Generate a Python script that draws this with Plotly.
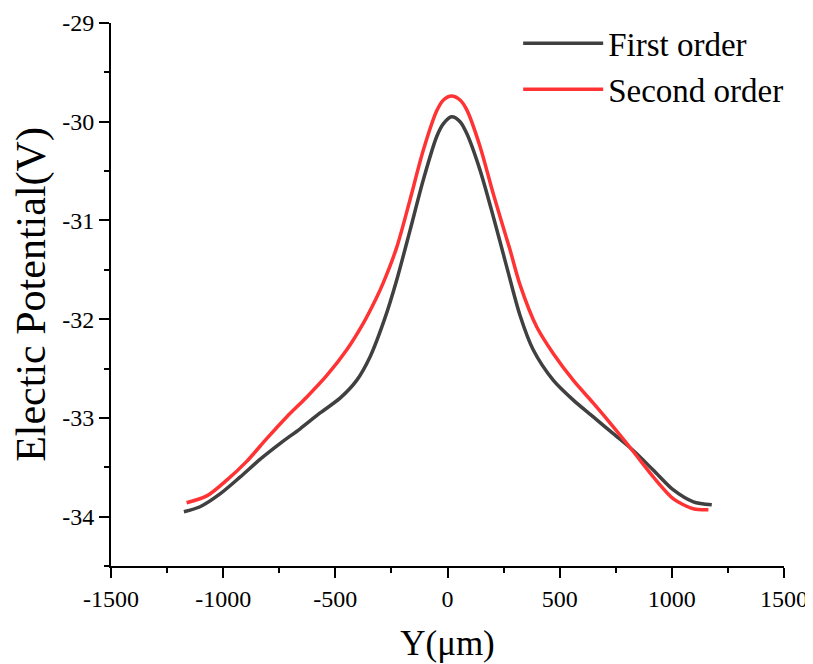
import plotly.graph_objects as go

# First order curve
first_x = [-1175, -1103, -1014, -925, -836, -747, -657, -568, -479, -405, -345, -279,
           -226, -167, -108, -48, -18, 18, 56, 86, 145, 204, 264, 323, 382, 472, 561, 650,
           739, 828, 918, 1007, 1096, 1178]
first_y = [-33.95, -33.90, -33.77, -33.60, -33.42, -33.26, -33.11, -32.95, -32.80, -32.62,
           -32.38, -31.99, -31.60, -31.10, -30.59, -30.15, -30.02, -29.95, -30.00, -30.12,
           -30.49, -30.96, -31.47, -31.96, -32.31, -32.62, -32.82, -32.99, -33.16, -33.33,
           -33.53, -33.73, -33.85, -33.88]

# Second order curve
second_x = [-1163, -1073, -984, -895, -806, -717, -628, -538, -449, -375, -316, -286,
            -226, -167, -108, -48, -18, 18, 56, 86, 145, 204, 279, 323, 398, 472, 561, 650,
            739, 828, 918, 1007, 1096, 1163]
second_y = [-33.86, -33.79, -33.63, -33.44, -33.21, -32.99, -32.79, -32.57, -32.31, -32.04,
            -31.78, -31.63, -31.27, -30.79, -30.29, -29.89, -29.78, -29.74, -29.78, -29.88,
            -30.25, -30.73, -31.30, -31.65, -32.08, -32.35, -32.62, -32.85, -33.09, -33.34,
            -33.60, -33.82, -33.92, -33.93]

x_ticks = [-1500, -1000, -500, 0, 500, 1000, 1500]
y_ticks = [-34, -33, -32, -31, -30, -29]

FONT = "Liberation Serif, Times New Roman, serif"

fig = go.Figure()
fig.add_trace(go.Scatter(x=first_x, y=first_y, mode="lines", name="First order",
                         line=dict(color="#404040", width=3.5, shape="spline", smoothing=0.8)))
fig.add_trace(go.Scatter(x=second_x, y=second_y, mode="lines", name="Second order",
                         line=dict(color="#ff3333", width=3.5, shape="spline", smoothing=0.8)))

axis_common = dict(showgrid=False, zeroline=False, showline=True, linecolor="black",
                   linewidth=2, ticks="outside", ticklen=10, tickwidth=2, tickcolor="black",
                   automargin=False,
                   tickfont=dict(family=FONT, size=24, color="black"))

fig.update_xaxes(range=[-1500, 1500], tickvals=x_ticks, ticktext=[str(v) for v in x_ticks],
                 minor=dict(ticks="outside", ticklen=5, tickwidth=2, tickcolor="black", dtick=250,
                            tick0=-1500, showgrid=False),
                 title=dict(text="Y(μm)", font=dict(family=FONT, size=35, color="black"), standoff=20),
                 **axis_common)
fig.update_yaxes(range=[-34.5, -29], tickvals=y_ticks, ticktext=[str(v) for v in y_ticks],
                 minor=dict(ticks="outside", ticklen=5, tickwidth=2, tickcolor="black", dtick=0.5,
                            tick0=-34.5, showgrid=False),
                 title=dict(text="Electic Potential(V)", font=dict(family=FONT, size=42, color="black"),
                            standoff=14),
                 **axis_common)

# page body adds an 8px margin; figure sized to fit the 813x664 window
fig.update_layout(
    width=805, height=656,
    margin=dict(l=103, r=29, t=15, b=98, autoexpand=False),
    plot_bgcolor="white", paper_bgcolor="white",
    font=dict(family=FONT, color="black"),
    legend=dict(x=0.605, y=1.014, xanchor="left", yanchor="top", bgcolor="rgba(0,0,0,0)",
                font=dict(family=FONT, size=33, color="black"), itemwidth=80,
                tracegroupgap=0),
)

fig.write_html("out.html")
